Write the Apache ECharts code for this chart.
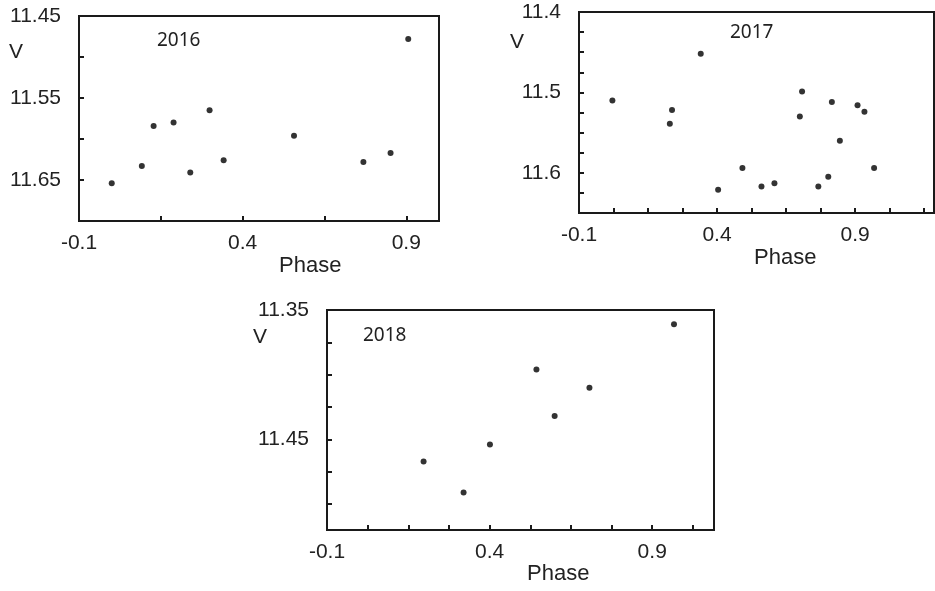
<!DOCTYPE html>
<html>
<head>
<meta charset="utf-8">
<title>V - Phase</title>
<script src="https://cdn.jsdelivr.net/npm/echarts@6/dist/echarts.min.js"></script>
<style>
	html, body { margin: 0; padding: 0; background: #fff; }
	#chart { width: 935px; height: 591px; }
</style>
</head>
<body>
<div id="chart"></div>
<script>
// data: [phase, V]
var data2016 = [
	[0.000, 11.654], [0.092, 11.633], [0.128, 11.584], [0.189, 11.580],
	[0.240, 11.641], [0.299, 11.565], [0.342, 11.626], [0.557, 11.596],
	[0.769, 11.628], [0.852, 11.617], [0.906, 11.478]
];
var data2017 = [
	[0.021, 11.510], [0.237, 11.522], [0.229, 11.539], [0.341, 11.452],
	[0.404, 11.621], [0.492, 11.594], [0.561, 11.617], [0.608, 11.613],
	[0.700, 11.530], [0.708, 11.499], [0.767, 11.617], [0.803, 11.605],
	[0.816, 11.512], [0.845, 11.560], [0.909, 11.516], [0.934, 11.524],
	[0.969, 11.594]
];
var data2018 = [
	[0.967, 11.361], [0.544, 11.396], [0.707, 11.410], [0.600, 11.432],
	[0.401, 11.454], [0.197, 11.467], [0.320, 11.491]
];

var years = ['2016', '2017', '2018'];
var xLabels = ['-0.1', '0.4', '0.9'];
var yLabels2016 = ['11.45', '11.55', '11.65'];
var yLabels2017 = ['11.4', '11.5', '11.6'];
var yLabels2018 = ['11.35', '11.45'];

var ink = '#1a1a1a';
var axisFont = 'Liberation Sans, Arial, sans-serif';

// only print the listed labels, the other ticks stay bare
function pickLabel(list) {
	return function (v) {
		for (var i = 0; i < list.length; i++) {
			if (Math.abs(Number(list[i]) - v) < 1e-6) return list[i];
		}
		return '';
	};
}

function xAxisOf(idx, max, step) {
	return {
		gridIndex: idx, type: 'value', min: -0.1, max: max, interval: step,
		axisLine: { show: true, onZero: false, lineStyle: { color: ink, width: 2 } },
		axisTick: { show: true, inside: true, length: 5, lineStyle: { color: ink, width: 2 } },
		axisLabel: { formatter: pickLabel(xLabels), color: '#222', fontSize: 21, fontFamily: axisFont, margin: 12, showMaxLabel: false },
		splitLine: { show: false }
	};
}

function yAxisOf(idx, min, max, labels) {
	return {
		gridIndex: idx, type: 'value', inverse: true, min: min, max: max, interval: 0.025,
		axisLine: { show: true, onZero: false, lineStyle: { color: ink, width: 2 } },
		axisTick: { show: true, inside: true, length: 5, lineStyle: { color: ink, width: 2 } },
		axisLabel: { formatter: pickLabel(labels), color: '#222', fontSize: 21, fontFamily: axisFont, margin: 18, showMaxLabel: false },
		splitLine: { show: false }
	};
}

function txt(x, y, s, size, family) {
	return {
		type: 'text', left: x, top: y,
		style: { text: s, fill: '#222', fontSize: size, fontFamily: family || axisFont }
	};
}

var myChart = echarts.init(document.getElementById('chart'));
var option = {
	backgroundColor: '#fff',
	animation: false,
	grid: [
		{ left: 79, top: 16, right: 496, bottom: 370, show: true, borderColor: ink, borderWidth: 2 },
		{ left: 579, top: 12, right: 1, bottom: 378, show: true, borderColor: ink, borderWidth: 2 },
		{ left: 327, top: 310, right: 221, bottom: 61, show: true, borderColor: ink, borderWidth: 2 }
	],
	xAxis: [
		xAxisOf(0, 1.0, 0.25),
		xAxisOf(1, 1.186, 0.125),
		xAxisOf(2, 1.09, 0.125)
	],
	yAxis: [
		(function () { var a = yAxisOf(0, 11.45, 11.70, yLabels2016); a.interval = 0.05; return a; })(),
		yAxisOf(1, 11.40, 11.65, yLabels2017),
		yAxisOf(2, 11.35, 11.52, yLabels2018)
	],
	series: [
		{ name: years[0], type: 'scatter', xAxisIndex: 0, yAxisIndex: 0, data: data2016, symbolSize: 6, itemStyle: { color: '#000' } },
		{ name: years[1], type: 'scatter', xAxisIndex: 1, yAxisIndex: 1, data: data2017, symbolSize: 6, itemStyle: { color: '#000' } },
		{ name: years[2], type: 'scatter', xAxisIndex: 2, yAxisIndex: 2, data: data2018, symbolSize: 6, itemStyle: { color: '#000' } }
	],
	graphic: [
		txt(157, 31, years[0], 19, 'Noto Sans, sans-serif'),
		txt(730, 23, years[1], 19, 'Noto Sans, sans-serif'),
		txt(363, 326, years[2], 19, 'Noto Sans, sans-serif'),
		txt(9, 42, 'V', 21),
		txt(510, 32, 'V', 21),
		txt(253, 327, 'V', 21),
		txt(279, 255, 'Phase', 22),
		txt(754, 247, 'Phase', 22),
		txt(527, 563, 'Phase', 22)
	]
};
myChart.setOption(option);
</script>
</body>
</html>
